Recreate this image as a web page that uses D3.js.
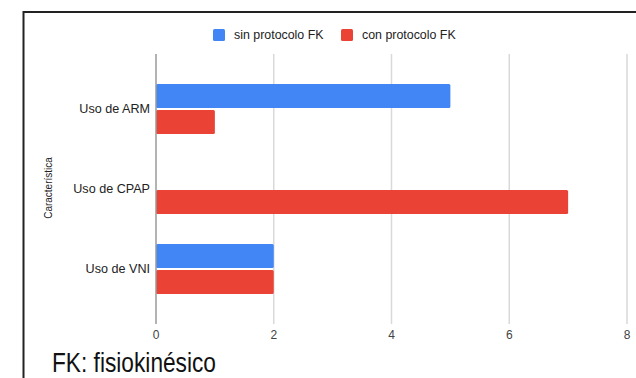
<!DOCTYPE html>
<html>
<head>
<meta charset="utf-8">
<script src="https://cdn.jsdelivr.net/npm/d3@7/dist/d3.min.js"></script>
<style>
  html, body { margin: 0; padding: 0; background: #fff; overflow: hidden; }
  svg { display: block; font-family: "Liberation Sans", Arial, sans-serif; }
</style>
</head>
<body>
<svg id="chart" width="636" height="378"></svg>
<script>
// Categories and series values
const categories = ["Uso de ARM", "Uso de CPAP", "Uso de VNI"];
const seriesNames = ["sin protocolo FK", "con protocolo FK"];
const sinProtocolo = [5, 0, 2];
const conProtocolo = [1, 7, 2];
const xTicks = [0, 2, 4, 6, 8];
const axisTitle = "Característica";
const footnote = "FK: fisiokinésico";

const colors = ["#4285F4", "#EA4335"];
const seriesValues = [sinProtocolo, conProtocolo];

const svg = d3.select("#chart");

// Frame lines (top and left)
svg.append("path")
  .attr("d", "M23.5,378 L23.5,12 L636,12")
  .attr("fill", "none")
  .attr("stroke", "#222")
  .attr("stroke-width", 2);

const plotTop = 54, plotBottom = 324;

const x = d3.scaleLinear().domain([0, 8]).range([156, 627]);
const y = d3.scaleBand().domain(categories).range([plotTop, plotBottom])
  .paddingInner(0.375).paddingOuter(0.375);
const ySub = d3.scaleBand().domain(seriesNames).range([0, y.bandwidth()]).paddingInner(0.08);

// Vertical gridlines
svg.append("g").selectAll("line")
  .data(xTicks.filter(t => t !== 0))
  .join("line")
  .attr("x1", d => x(d)).attr("x2", d => x(d))
  .attr("y1", plotTop).attr("y2", plotBottom)
  .attr("stroke", "#d9d9d9").attr("stroke-width", 1.5);

// Bars
const rows = categories.map((c, i) => ({
  cat: c,
  vals: seriesNames.map((s, j) => ({ s, v: seriesValues[j][i], color: colors[j] }))
}));

svg.append("g").selectAll("g")
  .data(rows)
  .join("g")
  .attr("transform", d => `translate(0,${y(d.cat)})`)
  .selectAll("rect")
  .data(d => d.vals.filter(v => v.v > 0))
  .join("rect")
  .attr("x", x(0))
  .attr("y", d => ySub(d.s))
  .attr("width", d => x(d.v) - x(0))
  .attr("height", ySub.bandwidth())
  .attr("rx", 1.5)
  .attr("fill", d => d.color);

// Zero baseline
svg.append("line")
  .attr("x1", x(0)).attr("x2", x(0))
  .attr("y1", plotTop).attr("y2", plotBottom)
  .attr("stroke", "#9a9a9a").attr("stroke-width", 1.5);

// X tick labels
svg.append("g").selectAll("text")
  .data(xTicks)
  .join("text")
  .attr("x", d => x(d))
  .attr("y", 335)
  .attr("text-anchor", "middle")
  .attr("dominant-baseline", "central")
  .attr("font-size", 12)
  .attr("fill", "#444")
  .text(d => d);

// Category labels
svg.append("g").selectAll("text")
  .data(categories)
  .join("text")
  .attr("x", 150)
  .attr("y", d => y(d) + y.bandwidth() / 2)
  .attr("text-anchor", "end")
  .attr("dominant-baseline", "central")
  .attr("font-size", 12.6)
  .attr("fill", "#222")
  .text(d => d);

// Axis title
svg.append("text")
  .attr("transform", "translate(48,188) rotate(-90)")
  .attr("text-anchor", "middle")
  .attr("dominant-baseline", "central")
  .attr("font-size", 10)
  .attr("fill", "#222")
  .text(axisTitle);

// Legend
const legendItems = [
  { name: seriesNames[0], color: colors[0], x: 213 },
  { name: seriesNames[1], color: colors[1], x: 341 }
];
const lg = svg.append("g").selectAll("g").data(legendItems).join("g")
  .attr("transform", d => `translate(${d.x},29)`);
lg.append("rect").attr("width", 12).attr("height", 12).attr("rx", 1.5)
  .attr("fill", d => d.color);
lg.append("text").attr("x", 21).attr("y", 6)
  .attr("dominant-baseline", "central")
  .attr("font-size", 12.4).attr("fill", "#222")
  .text(d => d.name);

// Footnote, set in a condensed style
svg.append("text")
  .attr("x", 52)
  .attr("y", 372)
  .attr("font-size", 27)
  .attr("textLength", 164)
  .attr("lengthAdjust", "spacingAndGlyphs")
  .attr("fill", "#111")
  .text(footnote);
</script>
</body>
</html>
